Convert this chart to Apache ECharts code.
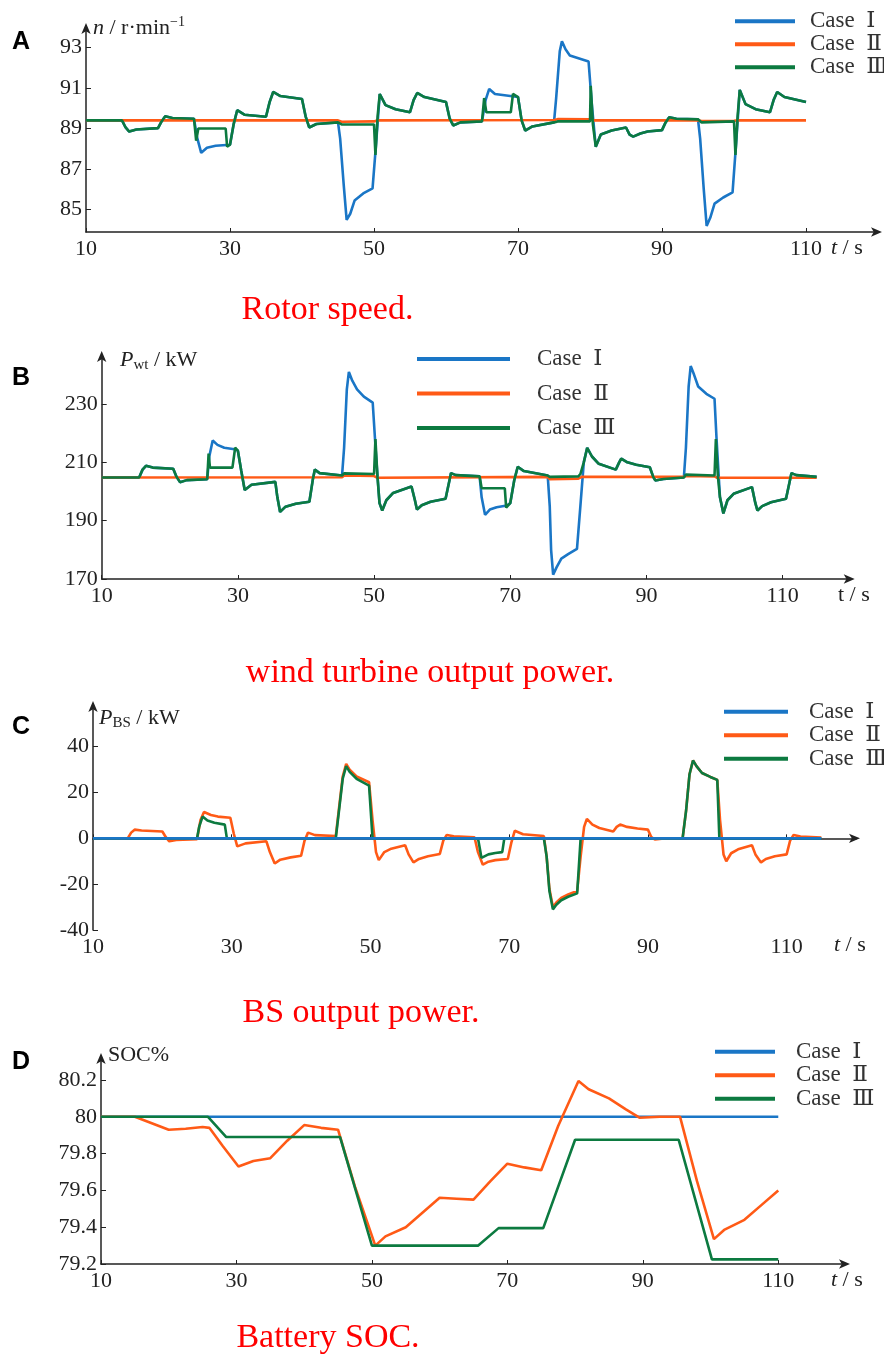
<!DOCTYPE html>
<html>
<head>
<meta charset="utf-8">
<script src="https://cdn.jsdelivr.net/npm/echarts@6/dist/echarts.min.js"></script>
<style>
html,body{margin:0;padding:0;background:#fff;}
#chart{width:884px;height:1361px;}
</style>
</head>
<body>
<div id="chart"></div>
<script>
// ---------- data ----------
const caseNames = ['Case  Ⅰ', 'Case  Ⅱ', 'Case  Ⅲ'];
const xTicks = [10, 30, 50, 70, 90, 110];

// A: rotor speed n (r/min)
const rotorTicks = [85, 87, 89, 91, 93];
const rotorCase1 = [[10,89.4],[15,89.4],[15.5,89.05],[16,88.85],[17,88.95],[20,89.02],[20.5,89.35],[21,89.6],[22,89.52],[25,89.48],[25.4,88.6],[26,87.8],[26.8,88.05],[28,88.15],[30,88.2],[30.5,89.2],[31,89.9],[32,89.68],[35,89.58],[35.5,90.3],[36,90.8],[37,90.6],[40,90.45],[40.5,89.6],[41,89.05],[42,89.22],[45,89.3],[45.3,88.5],[45.8,86.2],[46.2,84.5],[46.7,84.8],[47.3,85.45],[48.5,85.8],[49.8,86.05],[50.3,88.3],[50.8,90.7],[51.6,90.15],[53,89.95],[55,89.8],[55.5,90.4],[56,90.75],[57,90.55],[60,90.3],[60.5,89.5],[61,89.15],[62,89.3],[65,89.35],[65.5,90.4],[66,90.95],[66.8,90.7],[70,90.55],[70.5,89.4],[71,88.9],[72,89.1],[75,89.3],[75.3,90.5],[75.8,92.8],[76.1,93.3],[76.6,92.9],[77.2,92.6],[79.8,92.3],[80.3,90],[80.8,88.1],[81.5,88.7],[83,88.9],[85,89.05],[85.5,88.7],[86,88.6],[87,88.75],[88,88.85],[90,88.92],[90.5,89.3],[91,89.55],[92,89.48],[95,89.45],[95.3,88.5],[95.8,86],[96.2,84.2],[96.7,84.6],[97.3,85.3],[98.5,85.6],[99.8,85.85],[100.3,88.3],[100.8,90.9],[101.6,90.2],[103,89.95],[105,89.8],[105.5,90.4],[106,90.8],[107,90.55],[110,90.3]];
const rotorCase2 = [[10,89.4],[45,89.4],[45.5,89.33],[50,89.35],[50.5,89.4],[75,89.42],[75.5,89.46],[80,89.45],[80.5,89.4],[95,89.4],[95.5,89.37],[100,89.38],[100.5,89.4],[110,89.4]];
const rotorCase3 = [[10,89.4],[15,89.4],[15.5,89.05],[16,88.85],[17,88.95],[20,89.02],[20.5,89.35],[21,89.6],[22,89.52],[25,89.48],[25.3,88.4],[25.6,89.0],[29.4,89.0],[29.6,88.1],[30,88.2],[30.5,89.2],[31,89.9],[32,89.68],[35,89.58],[35.5,90.3],[36,90.8],[37,90.6],[40,90.45],[40.5,89.6],[41,89.05],[42,89.22],[45,89.3],[45.5,89.2],[50,89.2],[50.2,87.7],[50.5,89.6],[50.8,90.7],[51.6,90.15],[53,89.95],[55,89.8],[55.5,90.4],[56,90.75],[57,90.55],[60,90.3],[60.5,89.5],[61,89.15],[62,89.3],[65,89.35],[65.3,90.5],[65.6,89.8],[69,89.8],[69.3,90.7],[70,90.55],[70.5,89.4],[71,88.9],[72,89.1],[75,89.3],[75.5,89.35],[80,89.35],[80.1,91.1],[80.4,89.2],[80.8,88.1],[81.5,88.7],[83,88.9],[85,89.05],[85.5,88.7],[86,88.6],[87,88.75],[88,88.85],[90,88.92],[90.5,89.3],[91,89.55],[92,89.48],[95,89.45],[95.5,89.3],[100,89.35],[100.2,87.7],[100.5,89.6],[100.8,90.9],[101.6,90.2],[103,89.95],[105,89.8],[105.5,90.4],[106,90.8],[107,90.55],[110,90.3]];

// B: wind turbine output power Pwt (kW)
const pwtTicks = [170, 190, 210, 230];
const pwtCase1 = [[10,204.8],[15.5,204.8],[16,207.5],[16.5,208.8],[17.5,208.2],[20.5,207.8],[21,205],[21.5,203.2],[22.5,203.9],[25.5,204.2],[25.8,212],[26.3,217.5],[27,216],[28,215],[29.5,214.5],[30,214],[30.5,207],[31,200.5],[32,202.3],[35.5,203.3],[35.8,198],[36.2,193],[37,194.8],[38.5,195.8],[40.5,196.5],[41,204],[41.3,207.5],[42,206.3],[45.3,205.5],[45.6,215],[46,235],[46.3,241],[46.8,238],[47.5,235],[48.5,232.5],[49.8,230.5],[50.3,212],[50.8,196],[51.2,193.5],[51.8,197],[52.8,199.5],[55.5,201.7],[56,197],[56.3,193.8],[57,195.3],[58.3,196.5],[60.5,197.5],[61,203],[61.3,206.3],[62,205.6],[65.5,205.2],[65.8,198],[66.3,192],[67,193.8],[68,194.6],[69.5,195.2],[70,196],[70.6,204],[71.1,208.5],[72,207],[75.5,205.5],[75.8,195],[76,180],[76.3,171.5],[76.8,174],[77.5,177],[78.5,178.5],[79.8,180.3],[80.3,195],[80.8,210],[81.3,215],[82,212],[83,209.5],[85.5,207.5],[86,210],[86.3,211.3],[87.2,210],[88.5,209.2],[90.5,208.3],[91,205],[91.3,203.8],[92.5,204.3],[95.5,204.8],[95.8,215],[96.2,236],[96.5,243],[97,240],[97.6,236],[98.8,233.5],[100,231.8],[100.3,218],[100.8,198],[101.3,192.5],[101.9,197],[102.8,199.2],[105.5,201.5],[106,196],[106.3,193.5],[107,195],[108.3,196.3],[110.5,197.5],[111,203],[111.3,206.3],[112,205.6],[115,205]];
const pwtCase2 = [[10,204.8],[45.3,204.9],[45.6,205.5],[50,205.3],[50.5,204.7],[75.5,205],[75.8,204.2],[80,204.4],[80.5,205],[95.5,205],[95.8,205.3],[100,205.2],[100.4,204.7],[115,204.7]];
const pwtCase3 = [[10,204.8],[15.5,204.8],[16,207.5],[16.5,208.8],[17.5,208.2],[20.5,207.8],[21,205],[21.5,203.2],[22.5,203.9],[25.5,204.2],[25.7,213],[25.9,208.2],[29.2,208.2],[29.6,215],[30,214],[30.5,207],[31,200.5],[32,202.3],[35.5,203.3],[35.8,198],[36.2,193],[37,194.8],[38.5,195.8],[40.5,196.5],[41,204],[41.3,207.5],[42,206.3],[45.3,205.5],[45.6,206.2],[50,206],[50.2,218],[50.5,205],[50.8,196],[51.2,193.5],[51.8,197],[52.8,199.5],[55.5,201.7],[56,197],[56.3,193.8],[57,195.3],[58.3,196.5],[60.5,197.5],[61,203],[61.3,206.3],[62,205.6],[65.5,205.2],[65.8,201.1],[69.2,201.1],[69.4,194.5],[70,196],[70.6,204],[71.1,208.5],[72,207],[75.5,205.5],[75.8,205],[80,205.2],[80.3,206],[80.8,210],[81.3,215],[82,212],[83,209.5],[85.5,207.5],[86,210],[86.3,211.3],[87.2,210],[88.5,209.2],[90.5,208.3],[91,205],[91.3,203.8],[92.5,204.3],[95.5,204.8],[95.8,205.8],[100,205.5],[100.2,218],[100.5,205],[100.8,198],[101.3,192.5],[101.9,197],[102.8,199.2],[105.5,201.5],[106,196],[106.3,193.5],[107,195],[108.3,196.3],[110.5,197.5],[111,203],[111.3,206.3],[112,205.6],[115,205]];

// C: BS output power PBS (kW)
const pbsTicks = [-40, -20, 0, 20, 40];
const pbsCase1 = [[10,0],[115,0]];
const pbsCase2 = [[10,0],[15,0],[15.5,2.5],[16,3.8],[17,3.4],[20,3.0],[20.5,0.5],[21,-1.3],[22,-0.7],[25,-0.4],[25.5,8],[26,11.5],[27,10.2],[28,9.5],[29.8,9],[30.3,2],[30.8,-3.5],[32,-2.2],[35,-1.3],[35.5,-6],[36.2,-11],[37,-9.3],[38.5,-8.3],[40,-7.6],[40.5,-1],[41,2.5],[42,1.4],[45,1],[45.5,14],[46,27],[46.5,32.5],[47,30],[48,27],[49.8,24.5],[50.3,8],[50.8,-6],[51.2,-9.5],[52,-6],[53,-4.5],[55,-3],[55.5,-7],[56.2,-10.5],[57,-9],[58.3,-7.8],[60,-6.8],[60.5,-1],[61,1.5],[62,0.9],[65,0.5],[65.5,-6],[66.2,-11.5],[67,-10.2],[68,-9.5],[69.8,-9],[70.3,-2],[70.8,3.3],[72,1.8],[75,1],[75.4,-8],[75.8,-22],[76.3,-30],[76.8,-28],[77.5,-26],[78.5,-24.5],[79.8,-23],[80.3,-8],[80.8,5],[81.2,8.5],[82,6],[83,4.5],[85,3],[85.5,5],[86,6],[87,5],[88.5,4.3],[90,3.8],[90.5,0.5],[91,-0.5],[92,-0.2],[95,0],[95.5,12],[96,28],[96.5,34],[97,31.5],[97.8,28.5],[99,26.8],[100,25.5],[100.4,8],[100.9,-7],[101.3,-10],[102,-6.5],[103,-4.8],[105,-3],[105.5,-7],[106.3,-10.5],[107,-9],[108.3,-7.8],[110,-7],[110.5,-1],[111,1.5],[112,0.8],[115,0.3]];
const pbsCase3 = [[10,0],[25,0],[25.3,5],[25.8,9.5],[26.5,7.8],[27.5,6.8],[29,6],[29.3,0],[45,0],[45.5,13],[46,26],[46.5,31.5],[47,29],[48,26],[49.8,23],[50.3,0],[65.5,0],[65.8,-5],[66,-8.5],[67,-7],[68,-6.4],[69,-6],[69.3,0],[75,0],[75.4,-8],[75.8,-23],[76.3,-31],[76.8,-29],[77.5,-27],[78.5,-25.5],[79.8,-24],[80.3,0],[95,0],[95.5,12],[96,28],[96.5,34],[97,31.5],[97.8,28.5],[99,26.8],[100,25.5],[100.3,0],[115,0]];

// D: battery SOC (%)
const socTicks = [79.2, 79.4, 79.6, 79.8, 80, 80.2];
const socCase1 = [[10,80],[110,80]];
const socCase2 = [[10,80],[15,80],[17.5,79.965],[20,79.93],[22.5,79.935],[25,79.945],[26,79.94],[28,79.84],[30.3,79.73],[32.5,79.76],[35,79.775],[37.5,79.87],[40,79.955],[42.5,79.94],[45,79.93],[47.5,79.62],[50.5,79.3],[52,79.35],[55,79.4],[57.5,79.48],[60,79.56],[62.5,79.555],[65,79.55],[67.5,79.65],[70,79.745],[72.5,79.725],[75,79.71],[77.5,79.95],[80.5,80.195],[82,80.15],[85,80.1],[87.5,80.04],[89.5,79.995],[92.5,80.0],[95.5,80.0],[98,79.65],[100.5,79.335],[102,79.385],[105,79.44],[107.5,79.52],[110,79.6]];
const socCase3 = [[10,80],[25.8,80],[28.5,79.89],[45.3,79.89],[50,79.3],[65.7,79.3],[68.7,79.395],[75.3,79.395],[80,79.875],[95.3,79.875],[100.2,79.225],[110,79.225]];

// ---------- style ----------
const SERIF = '"Liberation Serif","DejaVu Serif","Times New Roman",serif';
const SANS = '"Liberation Sans",Arial,sans-serif';
const COLORS = ['#1a76c6', '#ff5a16', '#0c7a40'];
const AXIS_COLOR = '#222';

const panels = [
  {grid:{left:86, top:27, width:792, height:205}, y:[83.9, 94.0], yt:rotorTicks,
   series:[[0,rotorCase1],[1,rotorCase2],[2,rotorCase3]],
   legend:{left:735, top:9.75, itemWidth:60, pad:10, lh:22.5, gap:0}},
  {grid:{left:101.7, top:355, width:749, height:224}, y:[170, 246.8], yt:pwtTicks,
   series:[[0,pwtCase1],[1,pwtCase2],[2,pwtCase3]],
   legend:{left:417, top:347, itemWidth:93, pad:22, lh:24, gap:10.5}},
  {grid:{left:93, top:705, width:763, height:225}, y:[-40, 58.2], yt:pbsTicks,
   series:[[1,pbsCase2],[2,pbsCase3],[0,pbsCase1]],
   legend:{left:724, top:700, itemWidth:64, pad:16, lh:23.5, gap:0}},
  {grid:{left:101, top:1057, width:745, height:207}, y:[79.2, 80.325], yt:socTicks,
   series:[[0,socCase1],[1,socCase2],[2,socCase3]],
   legend:{left:715, top:1040, itemWidth:60, pad:16, lh:23.5, gap:0}}
];

const option = {
  animation:false,
  backgroundColor:'#fff',
  grid:[], xAxis:[], yAxis:[], series:[], legend:[], graphic:[]
};

panels.forEach((p, i) => {
  option.grid.push(Object.assign({containLabel:false, outerBoundsMode:'none'}, p.grid));
  option.xAxis.push({
    type:'value', gridIndex:i, min:10, max:120,
    axisLine:{show:true, lineStyle:{color:AXIS_COLOR, width:1.5}, symbol:['none','arrow'], symbolSize:[7,11], symbolOffset:[0,4]},
    axisTick:{show:true, inside:true, length:4, customValues:xTicks, lineStyle:{color:AXIS_COLOR}},
    axisLabel:{show:true, customValues:xTicks, margin:6, color:AXIS_COLOR, fontFamily:SERIF, fontSize:22},
    splitLine:{show:false}
  });
  option.yAxis.push({
    type:'value', gridIndex:i, min:p.y[0], max:p.y[1],
    axisLine:{show:true, onZero:false, lineStyle:{color:AXIS_COLOR, width:1.5}, symbol:['none','arrow'], symbolSize:[7,11], symbolOffset:[0,4]},
    axisTick:{show:true, inside:true, length:5, customValues:p.yt, lineStyle:{color:AXIS_COLOR}},
    axisLabel:{show:true, customValues:p.yt, margin:4, color:AXIS_COLOR, fontFamily:SERIF, fontSize:22,
      formatter:v => String(Math.round(v*10)/10)},
    splitLine:{show:false}
  });
  p.series.forEach(([ci, data]) => {
    option.series.push({
      type:'line', name:caseNames[ci], xAxisIndex:i, yAxisIndex:i, data:data,
      showSymbol:false, symbol:'none', smooth:false,
      lineStyle:{color:COLORS[ci], width:2.6}, itemStyle:{color:COLORS[ci]},
      emphasis:{disabled:true}
    });
  });
  const L = p.legend;
  option.legend.push({
    data:caseNames, orient:'vertical', left:L.left, top:L.top, padding:0,
    itemWidth:L.itemWidth, itemHeight:4, itemGap:L.gap, icon:'rect',
    textStyle:{fontFamily:SERIF, fontSize:23, color:'#333', lineHeight:L.lh, padding:[0,0,0,L.pad]},
    selectedMode:false
  });
});

function txt(x, y, text, font, fill, align, rich) {
  const style = {x:x, y:y, text:text, font:font, fill:fill||'#222', align:align||'left', verticalAlign:'middle'};
  if (rich) style.rich = rich;
  return {type:'text', style:style, silent:true};
}
const richName = {
  i:{fontFamily:SERIF, fontSize:22, fontStyle:'italic', fill:'#222', lineHeight:26},
  n:{fontFamily:SERIF, fontSize:22, fill:'#222', lineHeight:26},
  sup:{fontFamily:SERIF, fontSize:14, fill:'#222', lineHeight:14, verticalAlign:'top'},
  sub:{fontFamily:SERIF, fontSize:15, fill:'#222', lineHeight:15, verticalAlign:'bottom'}
};
const F22 = '22px ' + SERIF;
option.graphic = [
  // panel letters
  txt(12, 42, 'A', 'bold 25px ' + SANS, '#000'),
  txt(12, 378, 'B', 'bold 25px ' + SANS, '#000'),
  txt(12, 727, 'C', 'bold 25px ' + SANS, '#000'),
  txt(12, 1062, 'D', 'bold 25px ' + SANS, '#000'),
  // axis names
  txt(93, 28, '{i|n}{n| / r·min}{sup|−1}', F22, '#222', 'left', richName),
  txt(120, 360, '{i|P}{sub|wt}{n| / kW}', F22, '#222', 'left', richName),
  txt(99, 718, '{i|P}{sub|BS}{n| / kW}', F22, '#222', 'left', richName),
  txt(108, 1055, '{n|SOC%}', F22, '#222', 'left', richName),
  txt(831, 248, '{i|t}{n| / s}', F22, '#222', 'left', richName),
  txt(838, 595, '{n|t / s}', F22, '#222', 'left', richName),
  txt(834, 945, '{i|t}{n| / s}', F22, '#222', 'left', richName),
  txt(831, 1280, '{i|t}{n| / s}', F22, '#222', 'left', richName),
  // captions
  txt(327.5, 310, 'Rotor speed.', '34px ' + SERIF, '#ff0000', 'center'),
  txt(430, 673, 'wind turbine output power.', '34px ' + SERIF, '#ff0000', 'center'),
  txt(361, 1013, 'BS output power.', '34px ' + SERIF, '#ff0000', 'center'),
  txt(328, 1338, 'Battery SOC.', '34px ' + SERIF, '#ff0000', 'center')
];

const chart = echarts.init(document.getElementById('chart'), null, {renderer:'canvas'});
chart.setOption(option);
</script>
</body>
</html>
